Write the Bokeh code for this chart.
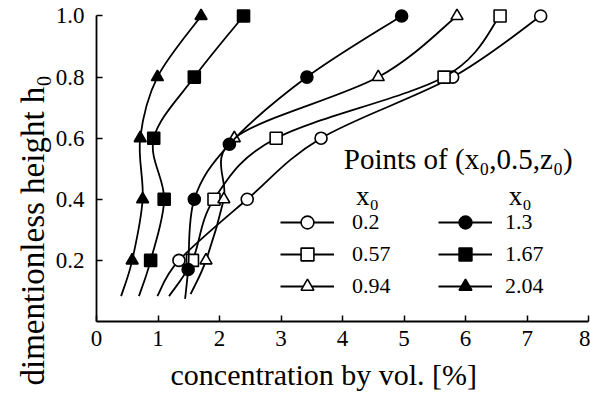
from bokeh.plotting import figure
from bokeh.models import Range1d, Legend, LegendItem, Label, FixedTicker, PrintfTickFormatter, Title
from bokeh.embed import file_html
from bokeh.resources import INLINE

# ---- data ----
series_labels = ["0.2", "0.57", "0.94", "1.3", "1.67", "2.04"]
markers = ["circle", "square", "triangle", "circle", "square", "triangle"]
fills = ["white", "white", "white", "black", "black", "black"]

conc_020 = [1.34, 2.45, 3.65, 5.79, 7.22]
h_020 = [0.2, 0.4, 0.6, 0.8, 1.0]
conc_057 = [1.56, 1.91, 2.92, 5.65, 6.56]
h_057 = [0.2, 0.4, 0.6, 0.8, 1.0]
conc_094 = [1.78, 2.07, 2.24, 4.58, 5.86]
h_094 = [0.2, 0.4, 0.6, 0.8, 1.0]
conc_130 = [1.49, 1.59, 2.16, 3.42, 4.96]
h_130 = [0.17, 0.4, 0.58, 0.8, 1.0]
conc_167 = [0.88, 1.10, 0.93, 1.59, 2.39]
h_167 = [0.2, 0.4, 0.6, 0.8, 1.0]
conc_204 = [0.58, 0.75, 0.71, 0.99, 1.70]
h_204 = [0.2, 0.4, 0.6, 0.8, 1.0]

# lower ends of the drawn curves (no marker there)
tail_conc = [0.99, 1.18, 1.53, 1.44, 0.69, 0.40]
tail_h = [0.083, 0.083, 0.09, 0.074, 0.083, 0.083]

x_ticks = [0, 1, 2, 3, 4, 5, 6, 7, 8]
y_ticks = [0.2, 0.4, 0.6, 0.8, 1.0]

all_conc = [conc_020, conc_057, conc_094, conc_130, conc_167, conc_204]
all_h = [h_020, h_057, h_094, h_130, h_167, h_204]

FONT = "Liberation Serif"

p = figure(width=590, height=400, output_backend="svg", toolbar_location=None,
           x_range=Range1d(0, 8.03), y_range=Range1d(0, 1.031),
           min_border_left=96, min_border_right=0, min_border_top=6, min_border_bottom=79)
p.grid.visible = False
p.outline_line_color = None
p.background_fill_color = "white"
p.border_fill_color = "white"

for ax in (p.xaxis[0], p.yaxis[0]):
    ax.axis_line_width = 1.8
    ax.axis_line_color = "black"
    ax.major_tick_in = 6
    ax.major_tick_out = 0
    ax.major_tick_line_width = 1.5
    ax.minor_tick_line_color = None
    ax.major_label_text_font = FONT
    ax.major_label_text_font_size = "23px"
    ax.major_label_text_color = "black"

p.xaxis.ticker = FixedTicker(ticks=x_ticks)
p.yaxis.ticker = FixedTicker(ticks=y_ticks)
p.yaxis.formatter = PrintfTickFormatter(format="%.1f")
p.xaxis.bounds = (0, 8)
p.yaxis.bounds = (0, 1.0)
p.xaxis.major_label_standoff = 9
p.yaxis.major_label_standoff = 12

# axis titles, offset like the reference
p.add_layout(Title(text="concentration by vol.  [%]", align="left", offset=74,
                   text_font=FONT, text_font_size="30px", text_font_style="normal",
                   text_color="black", standoff=14), "below")
p.add_layout(Title(text="dimentionless height h\u2080", align="left", offset=-64,
                   text_font=FONT, text_font_size="33px", text_font_style="normal",
                   text_color="black", standoff=4), "left")


def catmull_bezier(xs, ys):
    px = [xs[0]] + list(xs) + [xs[-1]]
    py = [ys[0]] + list(ys) + [ys[-1]]
    out = dict(x0=[], y0=[], x1=[], y1=[], cx0=[], cy0=[], cx1=[], cy1=[])
    for i in range(len(xs) - 1):
        x0, y0 = px[i], py[i]
        x1, y1 = px[i + 1], py[i + 1]
        x2, y2 = px[i + 2], py[i + 2]
        x3, y3 = px[i + 3], py[i + 3]
        out["x0"].append(x1); out["y0"].append(y1)
        out["x1"].append(x2); out["y1"].append(y2)
        out["cx0"].append(x1 + (x2 - x0) / 6.0); out["cy0"].append(y1 + (y2 - y0) / 6.0)
        out["cx1"].append(x2 - (x3 - x1) / 6.0); out["cy1"].append(y2 - (y3 - y1) / 6.0)
    return out


items1, items2 = [], []
for i, lab in enumerate(series_labels):
    xs = [tail_conc[i]] + all_conc[i]
    ys = [tail_h[i]] + all_h[i]
    seg = catmull_bezier(xs, ys)
    br = p.bezier(x0=seg["x0"], y0=seg["y0"], x1=seg["x1"], y1=seg["y1"],
                  cx0=seg["cx0"], cy0=seg["cy0"], cx1=seg["cx1"], cy1=seg["cy1"],
                  line_color="black", line_width=1.8)
    sr = p.scatter(all_conc[i], all_h[i], marker=markers[i], size=12,
                   fill_color=fills[i], line_color="black", line_width=1.6)
    item = LegendItem(label=lab, renderers=[br, sr])
    (items1 if i < 3 else items2).append(item)


def make_legend(items, loc, standoff):
    lg = Legend(items=items, location=loc, orientation="vertical",
                glyph_width=54, glyph_height=32, spacing=0, padding=0, margin=0,
                label_standoff=standoff, label_text_font=FONT,
                label_text_font_size="22px", label_text_color="black",
                border_line_color=None, background_fill_alpha=0)
    return lg


p.add_layout(make_legend(items1, (184, 19), 18), "center")
p.add_layout(make_legend(items2, (342, 19), 13), "center")

p.add_layout(Label(x=4.02, y=0.532, text="Points of (x\u2080,0.5,z\u2080)",
                   text_font=FONT, text_font_size="29px", text_baseline="middle",
                   text_align="left", text_color="black"))
p.add_layout(Label(x=4.22, y=0.41, text="x\u2080", text_font=FONT, text_font_size="27px",
                   text_baseline="middle", text_align="left", text_color="black"))
p.add_layout(Label(x=6.70, y=0.41, text="x\u2080", text_font=FONT, text_font_size="27px",
                   text_baseline="middle", text_align="left", text_color="black"))

open("out.html", "w").write(file_html(p, INLINE))
